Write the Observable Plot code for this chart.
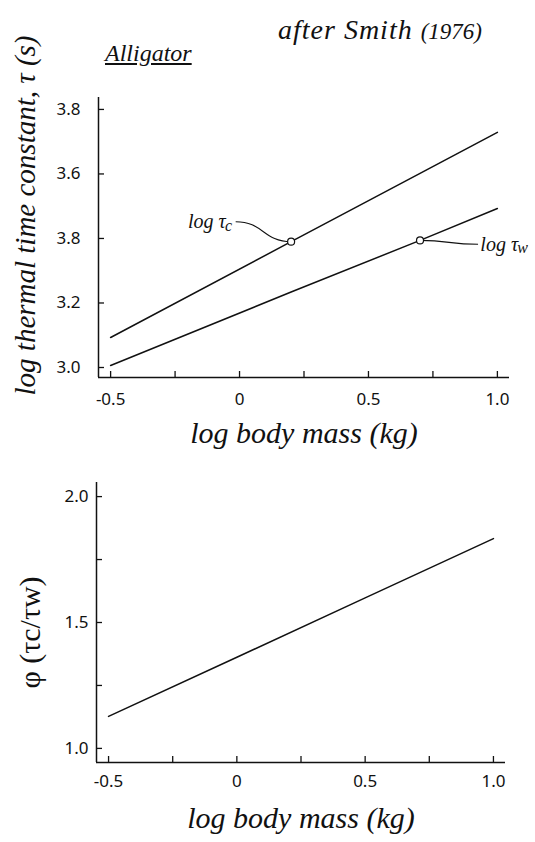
<!DOCTYPE html>
<html><head><meta charset="utf-8">
<script src="https://cdn.jsdelivr.net/npm/d3@7"></script>
<script src="https://cdn.jsdelivr.net/npm/@observablehq/plot@0.6"></script>
<style>
body{margin:0;background:#fff;}
#page{position:relative;width:535px;height:842px;overflow:hidden;font-family:"Liberation Serif",serif;color:#111;}
.t{position:absolute;white-space:nowrap;}
#top{position:absolute;left:0;top:0;}
#bot{position:absolute;left:0;top:460px;}
</style></head><body>
<div id="page">
  <div id="top"></div>
  <div id="bot"></div>
  <div class="t" style="left:278px;top:14px;font-style:italic;font-size:28px;letter-spacing:1px;">after Smith <span style="font-size:23px;letter-spacing:0">(1976)</span></div>
  <div class="t" style="left:105px;top:40px;font-style:italic;font-size:24px;text-decoration:underline;">Alligator</div>
</div>
<script>
// ---- data ----
const massTicks = [-0.5, -0.25, 0, 0.25, 0.5, 0.75, 1.0];
const massTickLabels = ["-0.5", "", "0", "", "0.5", "", "1.0"];
const tauTicks = [3.0, 3.2, 3.4, 3.6, 3.8];
const tauTickLabels = ["3.0", "3.2", "3.8", "3.6", "3.8"]; // as printed in the original
const phiTicks = [1.0, 1.25, 1.5, 1.75, 2.0];
const phiTickLabels = ["1.0", "", "1.5", "", "2.0"];

const logMass = [-0.5, 0.2, 0.7, 1.0];
const logTauC = [3.093, 3.390, 3.602, 3.729];
const logTauW = [3.006, 3.234, 3.394, 3.493];
const phiMass = [-0.5, 0, 0.5, 1.0];
const phiVals = [1.127, 1.362, 1.598, 1.833];

// marked points and their callouts
const callouts = [
  {name: "log τ", sub: "c", px: 0.2, py: 3.390, lx: -0.200, ly: 3.452, ex: -0.015},
  {name: "log τ", sub: "w", px: 0.7, py: 3.394, lx: 0.934, ly: 3.382, ex: 0.925}
];

const xDomain = [-0.547, 1.047];
const tauDomain = [2.969, 3.837];
const phiDomain = [0.944, 2.056];

const tauC = logMass.map((m, i) => ({mass: m, tau: logTauC[i]}));
const tauW = logMass.map((m, i) => ({mass: m, tau: logTauW[i]}));
const phi = phiMass.map((m, i) => ({mass: m, phi: phiVals[i]}));

const tickFont = "'Noto Sans', 'DejaVu Sans', sans-serif";
const hand = "'Liberation Serif', serif";
const fmt = (ticks, labels) => (d) => labels[ticks.findIndex(t => Math.abs(t - d) < 1e-9)] ?? "";

const topPlot = Plot.plot({
  width: 535, height: 460,
  marginTop: 97, marginBottom: 83, marginLeft: 98, marginRight: 26,
  x: {domain: xDomain},
  y: {domain: tauDomain},
  style: {fontFamily: tickFont, fontSize: "17px", color: "#111", background: "transparent"},
  marks: [
    Plot.ruleX([xDomain[0]], {strokeWidth: 1.5}),
    Plot.ruleY([tauDomain[0]], {strokeWidth: 1.5}),
    Plot.axisX({ticks: massTicks, tickFormat: fmt(massTicks, massTickLabels), tickSize: -6, tickPadding: 21, label: null, strokeWidth: 1.3}),
    Plot.axisY({ticks: tauTicks, tickFormat: fmt(tauTicks, tauTickLabels), tickSize: -6, tickPadding: 24, label: null, strokeWidth: 1.3}),
    Plot.line(tauC, {x: "mass", y: "tau", strokeWidth: 1.5}),
    Plot.line(tauW, {x: "mass", y: "tau", strokeWidth: 1.5}),
    Plot.link(callouts, {x1: "ex", y1: "ly", x2: "px", y2: "py", curve: "bump-x", strokeWidth: 1.1}),
    Plot.dot(callouts, {x: "px", y: "py", r: 3.5, stroke: "#111", fill: "white", strokeWidth: 1.2}),
    Plot.text(callouts, {x: "lx", y: "ly", text: "name", textAnchor: "start", fontFamily: hand, fontStyle: "italic", fontSize: 20}),
    Plot.text(callouts, {x: "lx", y: "ly", text: "sub", textAnchor: "start", dx: 37, dy: 4, fontFamily: hand, fontStyle: "italic", fontSize: 16}),
    Plot.text(["log thermal time constant, τ (s)"], {frameAnchor: "left", textAnchor: "middle", lineAnchor: "middle", rotate: -90, dx: -73, dy: -22, fontFamily: hand, fontStyle: "italic", fontSize: 29}),
    Plot.text(["log body mass (kg)"], {frameAnchor: "bottom", textAnchor: "middle", lineAnchor: "middle", dy: 56, fontFamily: hand, fontStyle: "italic", fontSize: 30})
  ]
});
document.getElementById("top").append(topPlot);

const botPlot = Plot.plot({
  width: 535, height: 382,
  marginTop: 22, marginBottom: 80, marginLeft: 96, marginRight: 30,
  x: {domain: xDomain},
  y: {domain: phiDomain},
  style: {fontFamily: tickFont, fontSize: "17px", color: "#111", background: "transparent"},
  marks: [
    Plot.ruleX([xDomain[0]], {strokeWidth: 1.5}),
    Plot.ruleY([phiDomain[0]], {strokeWidth: 1.5}),
    Plot.axisX({ticks: massTicks, tickFormat: fmt(massTicks, massTickLabels), tickSize: -6, tickPadding: 18, label: null, strokeWidth: 1.3}),
    Plot.axisY({ticks: phiTicks, tickFormat: fmt(phiTicks, phiTickLabels), tickSize: -6, tickPadding: 14, label: null, strokeWidth: 1.3}),
    Plot.line(phi, {x: "mass", y: "phi", strokeWidth: 1.5}),
    Plot.text(["φ (τc/τw)"], {frameAnchor: "left", textAnchor: "middle", lineAnchor: "middle", rotate: -90, dx: -66, dy: 10, fontFamily: hand, fontSize: 30}),
    Plot.text(["log body mass (kg)"], {frameAnchor: "bottom", textAnchor: "middle", lineAnchor: "middle", dy: 56, fontFamily: hand, fontStyle: "italic", fontSize: 30})
  ]
});
document.getElementById("bot").append(botPlot);
</script>
</body></html>
